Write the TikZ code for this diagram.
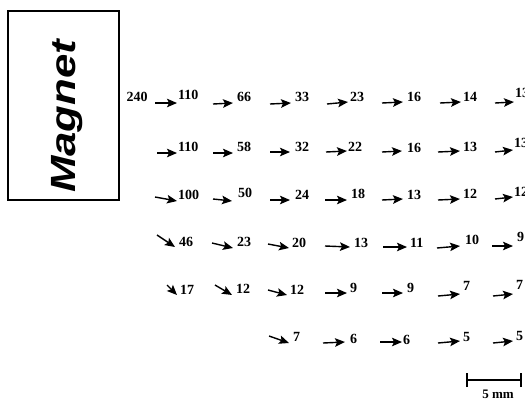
\documentclass[tikz,border=0pt]{standalone}
\usepackage{fontspec}
\setmainfont{Liberation Serif}
\newfontfamily\magfont{Liberation Sans}
\usetikzlibrary{arrows.meta}
\begin{document}
\begin{tikzpicture}[x=1pt,y=-1pt,
  vec/.style={line width=1.4pt,-{Stealth[length=10pt,width=8.5pt,inset=2pt]}},
  val/.style={anchor=west,inner sep=0pt,font=\bfseries\fontsize{14}{14}\selectfont},
  magbox/.style={draw,line width=1.4pt}]
\useasboundingbox[fill=white] (0,0) rectangle (525,400);
\draw[magbox] (8,11) rectangle (119,200);
\node[rotate=90,anchor=base west,inner sep=0pt] (mag) at (75,193)
  {\scalebox{1.25}[1]{\magfont\bfseries\itshape\fontsize{35}{35}\selectfont Magnet}};
\node[val,anchor=center] (n0) at (137,97) {240};
\foreach \i/\xa/\ya/\xb/\yb/\t/\xl/\yl in {
 1/155/103/177/103/110/178/95,
 2/213/104/233/103/66/237/97,
 3/270/104/291/103/33/295/97,
 4/327/104/348/102/23/350/97,
 5/382/103/403/102/16/407/97,
 6/440/103/461/102/14/463/97,
 7/495/103/514/102/13/515/93,
 8/157/153/177/153/110/178/147,
 9/213/153/233/153/58/237/147,
 10/270/152/290/152/32/295/147,
 11/326/152/347/151/22/348/147,
 12/382/152/402/151/16/407/148,
 13/438/152/460/151/13/463/147,
 14/495/152/513/150/13/514/143,
 15/155/197/177/201/100/178/195,
 16/213/199/232/201/50/238/193,
 17/270/200/290/200/24/295/195,
 18/325/200/347/200/18/351/194,
 19/382/200/403/199/13/407/195,
 20/438/200/460/199/12/463/194,
 21/495/199/513/197/12/514/192,
 22/157/235/175/247/46/179/242,
 23/212/243/233/248/23/237/242,
 24/268/244/289/248/20/292/243,
 25/325/246/350/247/13/354/243,
 26/383/247/407/247/11/410/243,
 27/437/248/460/246/10/465/240,
 28/492/246/513/246/9/517/237,
 29/167/285/177/295/17/180/290,
 30/215/285/232/295/12/236/289,
 31/268/290/287/295/12/290/290,
 32/325/293/347/293/9/350/288,
 33/382/293/403/293/9/407/288,
 34/438/296/460/294/7/463/286,
 35/493/296/513/294/7/516/285,
 36/269/336/289/343/7/293/337,
 37/323/343/345/342/6/350/339,
 38/380/342/402/342/6/403/340,
 39/438/343/460/341/5/463/337,
 40/493/343/513/341/5/516/336}{
  \coordinate (s\i) at (\xa,\ya);
  \coordinate (e\i) at (\xb,\yb);
  \draw[vec] (s\i) -- (e\i);
  \node[val] (n\i) at (\xl,\yl) {\t};
}
% scale bar
\coordinate (sbl) at (467,380);
\coordinate (sbr) at (521,380);
\draw[line width=1.3pt] (sbl) -- (sbr);
\draw[line width=1.3pt] ([yshift=-7pt]sbl) -- ([yshift=7pt]sbl);
\draw[line width=1.3pt] ([yshift=-7pt]sbr) -- ([yshift=7pt]sbr);
\node[val,anchor=center,font=\bfseries\fontsize{13}{13}\selectfont] (sbt) at (498,394.5) {5 mm};
\end{tikzpicture}
\end{document}
